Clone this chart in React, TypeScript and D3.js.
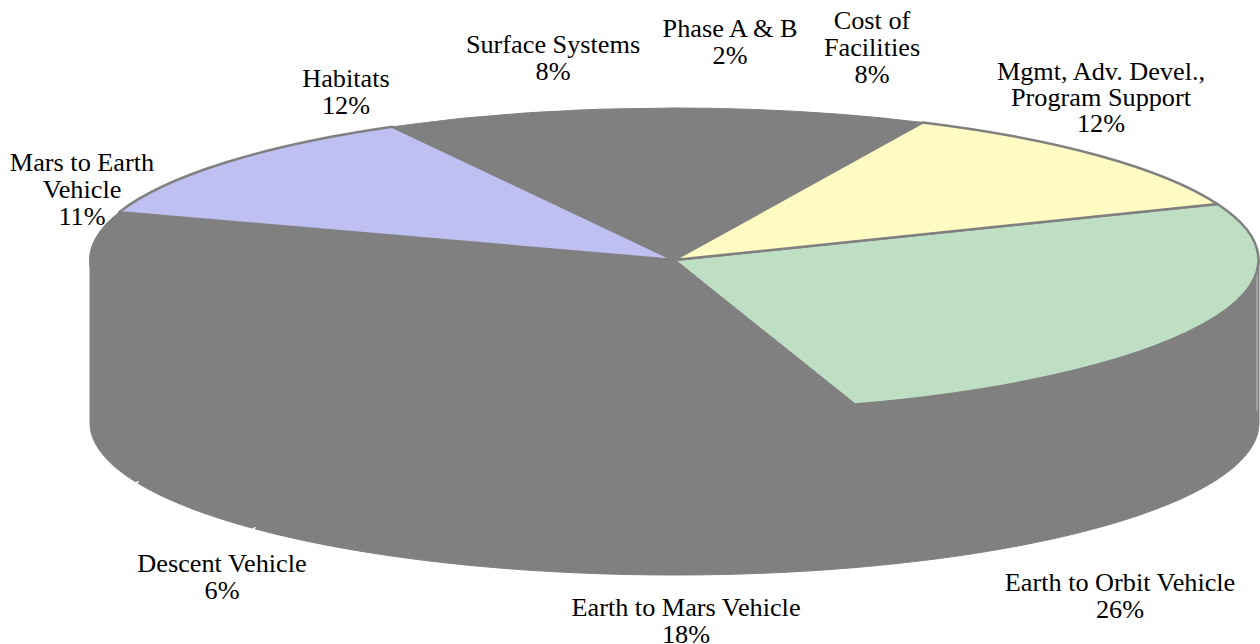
import * as d3 from 'd3'

// order is clockwise, starting from the Earth to Orbit slice
const categories = [
  'Earth to Orbit Vehicle',
  'Earth to Mars Vehicle',
  'Descent Vehicle',
  'Mars to Earth Vehicle',
  'Habitats',
  'Surface Systems',
  'Phase A & B',
  'Cost of Facilities',
  'Mgmt, Adv. Devel., Program Support',
]
// printed percentages
const labelValues = [26, 18, 6, 11, 12, 8, 2, 8, 12]
// share of the circle each slice really takes in the picture
const sliceValues = [26, 17.8, 5.8, 11.5, 11.9, 8, 2, 5, 12]
const labelLines = [
  ['Earth to Orbit Vehicle'],
  ['Earth to Mars Vehicle'],
  ['Descent Vehicle'],
  ['Mars to Earth', 'Vehicle'],
  ['Habitats'],
  ['Surface Systems'],
  ['Phase A & B'],
  ['Cost of', 'Facilities'],
  ['Mgmt, Adv. Devel.,', 'Program Support'],
]

const GREY = '#808080'
const colors = [
  '#bfdfc5', GREY, GREY, GREY, '#bfbff2', GREY, GREY, GREY, '#fffbc2',
]

const width = 1260
const height = 644
const cx = 674
const cy = 260
const rx = 584.5
const ry = 152
const depth = 163
const startDeg = 68.4

// label centre x and first baseline, same order as categories
const labelAt: [number, number, number][] = [
  [1120, 591, 27],
  [686, 616, 27],
  [222, 572, 27],
  [82, 171, 27],
  [346, 87, 27],
  [553, 53, 27],
  [730, 37, 27],
  [872, 29, 27],
  [1101, 80, 26],
]

const pie = d3
  .pie<number>()
  .sort(null)
  .startAngle((startDeg * Math.PI) / 180)
  .endAngle(((startDeg + 360) * Math.PI) / 180)
const slices = pie(sliceValues)
const arc = d3.arc<d3.PieArcDatum<number>>().innerRadius(0).outerRadius(rx)

const px = (a: number) => rx * Math.sin(a)
const py = (a: number) => -ry * Math.cos(a)

// wall under one slice, only the part of it facing the viewer
function sidePath(a0: number, a1: number) {
  const lo = Math.max(a0, Math.PI / 2)
  const hi = Math.min(a1, (3 * Math.PI) / 2)
  if (hi <= lo) return null
  const angles = d3.range(61).map(i => lo + ((hi - lo) * i) / 60)
  const pts: [number, number][] = angles.map(a => [px(a), py(a)])
  angles.reverse().forEach(a => pts.push([px(a), py(a) + depth]))
  return d3.line()(pts) + 'Z'
}

export default function App() {
  const topFlat = `translate(${cx},${cy}) scale(1,${ry / rx})`
  const order = d3.range(slices.length).sort((a, b) => +(colors[a] !== GREY) - +(colors[b] !== GREY))
  // the small nicks left on the bottom rim where the grey walls meet
  const nicks = slices.slice(1, 3).map(s => s.endAngle)

  return (
    <svg
      width={width}
      height={height}
      viewBox={`0 0 ${width} ${height}`}
      style={{ position: 'absolute', left: 0, top: 0, background: '#fff' }}
    >
      <g transform={`translate(${cx + 0.5},${cy})`}>
        {slices.map((s, i) => {
          const d = sidePath(s.startAngle, s.endAngle)
          return d ? <path key={i} d={d} fill={GREY} stroke={GREY} strokeWidth={1} /> : null
        })}
        {/* seam on the right of the wall */}
        <line x1={rx - 2} x2={rx - 2} y1={10} y2={depth - 12} stroke="#bdbdbd" strokeWidth={1} />
        {nicks.map((a, i) => (
          <line
            key={i}
            x1={px(a) - 1}
            x2={px(a) + 2}
            y1={py(a) + depth + 1}
            y2={py(a) + depth - 1}
            stroke="#fff"
            strokeWidth={1.5}
          />
        ))}
      </g>

      <g transform={topFlat}>
        {order.map(i => (
          <path
            key={categories[i]}
            d={arc(slices[i]) as string}
            fill={colors[i]}
            stroke={GREY}
            strokeWidth={colors[i] === GREY ? 1 : 2.5}
            strokeLinejoin="round"
            vectorEffect="non-scaling-stroke"
          />
        ))}
      </g>

      <g fontFamily="'Liberation Serif', serif" fontSize={25} fill="#000" textAnchor="middle">
        {categories.map((c, i) => {
          const [x, y, step] = labelAt[i]
          const lines = [...labelLines[i], `${labelValues[i]}%`]
          return (
            <text key={c} transform={`translate(${x},${y}) scale(1.05,1)`}>
              {lines.map((l, j) => (
                <tspan key={j} x={0} dy={j === 0 ? 0 : step}>
                  {l}
                </tspan>
              ))}
            </text>
          )
        })}
      </g>
    </svg>
  )
}
